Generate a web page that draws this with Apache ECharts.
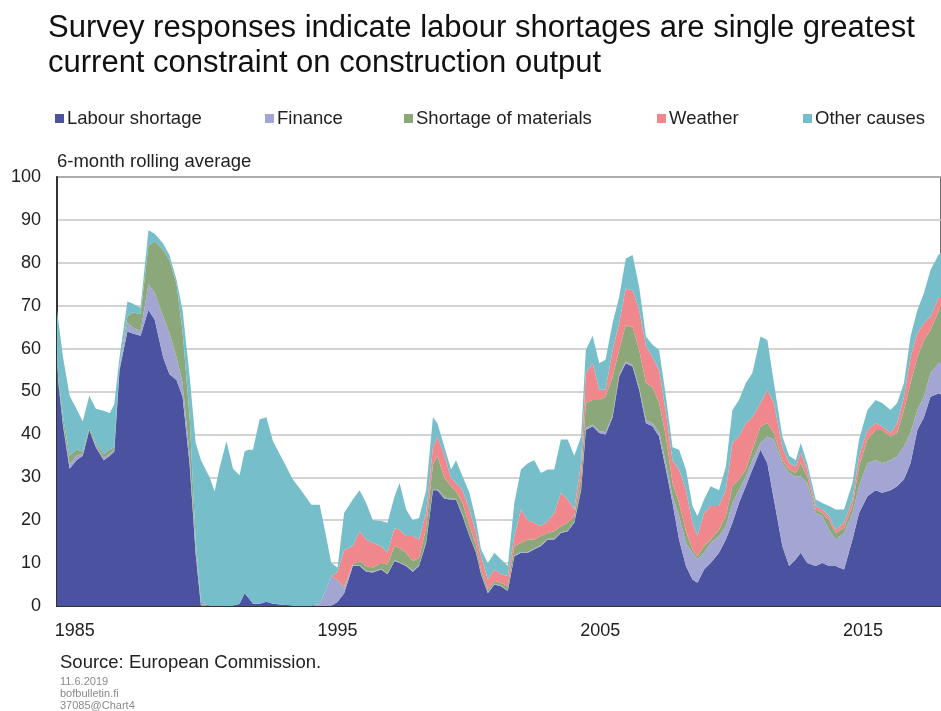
<!DOCTYPE html>
<html>
<head>
<meta charset="utf-8">
<script src="https://cdn.jsdelivr.net/npm/echarts@6/dist/echarts.min.js"></script>
<style>
html,body{margin:0;padding:0;background:#fff;}
#chart{width:941px;height:711px;}
</style>
</head>
<body>
<div id="chart"></div>
<script>
// Time points (fractional years)
const dates = [
  1984.32,1984.55,1984.8,1985.06,1985.3,1985.55,1985.8,1986.1,1986.33,1986.5,
  1986.7,1987.0,1987.2,1987.5,1987.8,1988.04,1988.36,1988.6,1988.87,1989.1,
  1989.37,1989.6,1989.8,1990.13,1990.32,1990.5,1990.77,1991.02,1991.27,1991.46,
  1991.6,1991.78,1992.03,1992.29,1992.54,1992.92,1993.3,1993.68,1994.0,1994.32,1994.57,1994.76,
  1995.0,1995.25,1995.58,1995.84,1996.09,1996.34,1996.66,1996.9,1997.17,1997.36,
  1997.61,1997.86,1998.1,1998.37,1998.63,1998.8,1999.07,1999.32,1999.51,1999.76,
  2000.02,2000.27,2000.46,2000.72,2000.97,2001.22,2001.48,2001.73,2001.98,2002.24,
  2002.49,2002.74,2003.0,2003.25,2003.5,2003.76,2004.01,2004.27,2004.45,2004.71,
  2004.96,2005.2,2005.47,2005.72,2005.97,2006.23,2006.48,2006.74,2006.99,2007.24,
  2007.5,2007.75,2008.0,2008.26,2008.51,2008.7,2008.95,2009.2,2009.52,2009.78,
  2010.03,2010.28,2010.54,2010.79,2011.1,2011.36,2011.61,2011.93,2012.19,2012.44,
  2012.63,2012.88,2013.2,2013.45,2013.71,2013.96,2014.28,2014.6,2014.85,2015.17,
  2015.48,2015.73,2016.05,2016.3,2016.56,2016.81,2017.07,2017.32,2017.57,2017.89,2018.0
];

const labour = [
  55,42,32,34,35,41,37,34,35,36,
  55,64,63.5,63,69,66.7,58,54,52.7,48.8,
  33,12,0,0,0,0,0,0,0.5,3,
  2,0.5,0.5,1,0.5,0.3,0,0,0,0,0,0,
  1,3,9.3,9.3,8,7.8,8.5,7.4,10.5,10,
  9.3,8,9.3,14.7,27,27,25,24.8,24.8,21,
  16.3,12.4,7.4,3,5,4.6,3.5,11.6,12.4,12.4,
  13.2,14,15.5,15.5,17,17.4,19.4,27,41,41.9,
  40.3,40,44,53.5,56.6,55.8,50.4,42.6,41.9,39.5,
  31.8,24,15.5,9.3,6.2,5.4,8.5,10,12.4,15.5,
  19.4,24,27.9,31.8,36.4,33.3,24.8,14,9.3,10.9,
  12.4,10,9.3,10,9.3,9.3,8.5,15.5,21.7,25.6,
  27,26.4,27,27.9,29.5,33.3,41,44,48.8,49.6,49
];

const finance = [
  0,0.5,1,1,0.5,0,0.5,0.5,0.5,0.5,
  0.5,2,1.5,1,6,6.3,9.5,9.6,5.3,3.2,
  2,1,0.5,0,0,0,0,0,0,0,
  0,0,0,0,0,0,0,0,0,0.5,4,7,
  5,1,0.2,0.2,0.2,0.2,0.2,0.2,0.2,0.2,
  0.2,0.2,0.2,0.3,0.3,0.3,0.3,0.2,0.2,0.3,
  0.2,0.2,0.2,0.2,0.2,0.2,0.2,0.2,0.2,0.2,
  0.2,0.2,0.2,0.2,0.2,0.2,0.2,0.5,0.5,0.4,
  0.5,0.5,0.5,0.5,0.4,0.4,0.6,0.7,0.7,1,
  1.5,1.6,5.4,5.4,6.2,5.5,3.9,4.7,3.9,3.1,
  4.6,3,2.3,2.2,1.6,6.2,14,19.3,21.7,19.3,
  17.8,18.7,12.4,11,8.5,6.2,8.5,6.2,6.2,7.7,
  7,6.9,7,7,7.7,7,4.7,4.8,5.5,7,8
];

const materials = [
  0.5,1.5,2,1.5,0.5,0.5,0.5,1,1,0.5,
  0.5,1.5,3.5,4,9,12,15.5,17,17,12,
  9,2,0.5,0,0,0,0,0,0,0,
  0,0,0,0,0,0,0,0,0,0,0,0,
  0,0.5,0.2,1,1.1,1,1.3,2.1,3.3,3.3,
  2.9,2.3,1.7,3.2,5.7,7.7,4.5,3,1.7,2.7,
  2.1,1.7,0.9,0.7,0.6,0.6,0.9,2.2,2.1,2.9,
  2.1,2.1,1.3,1.7,1.4,1.8,1.4,2.5,5.8,5.7,
  7.2,8.3,9,5.7,8.5,8.8,8.7,8.7,8.4,6.8,
  6.2,3.1,3.1,2.7,0.8,0.7,1.6,0.8,1.5,2.4,
  4,2.5,1.6,2.4,3.9,3.1,1.5,0.7,0.8,0.8,
  3.1,1.5,0.8,0.7,2.2,1.5,1.2,1.6,4.6,5.5,
  7,7.7,5.5,5.4,8.5,11.7,12.3,13.2,10,12.4,13.5
];

const weather = [
  0,0,0,0,0,0,0,0,0,0,
  0,0,0,0,0,0,0,0,0,0,
  0,0,0,0,0,0,0,0,0,0,
  0,0,0,0,0,0,0,0,0,0,0,0,
  2,8.5,4.3,6.9,6.2,5.7,4,2.7,4.2,4.3,
  3.9,5.8,4.3,3.5,4,4.5,5.2,1.8,2,3,
  3.9,2.7,3.1,2.3,2.7,2,2.4,2.3,7.8,4.5,
  3.9,2.3,2.8,4.3,7.8,5.4,1.5,3.3,7,8.6,
  2.4,1.6,6.2,6.3,8.5,8.6,9.3,8.5,7,7.7,
  5.5,5.3,7.8,9.6,6.2,4.7,7.7,7.8,5.5,6,
  10,10,10.8,7.6,5.4,7.8,7,3,1.5,1.5,
  2.4,1.6,0.8,0.8,1,0.8,1.2,1.5,2.5,2.2,
  1.6,0.9,0.8,2.3,3.1,6,5.6,3.9,3.1,3,1.5
];

const other = [
  13.5,14,14,9.5,7,7.5,8,10,8.5,10,
  2,3.5,2,1.5,3.6,1.8,1.5,1.2,1,5,
  9.5,23,33,30,26.7,32,38.4,32,30,33,
  34.4,35.9,43,43,37.9,33.7,29.5,26.4,23.6,23.1,12,3,
  1,8.7,10.8,9.6,8.5,5.3,5.8,7,7.4,10.9,
  6.2,3.7,5,5.3,7,3.1,2,2,5.3,3.2,
  3.9,3,1.6,3.8,3.9,3.5,2.3,7.7,9.3,13.3,
  14.6,12.4,12,10.1,12.4,14,12.5,6.2,5.4,6.4,
  6.2,7,6.3,6,7,8.2,5.4,2.3,2.9,4.7,
  3.8,3,4.6,4.8,3.9,4.7,3.1,4.6,3.7,5.5,
  7.7,8.5,9.4,10.3,15.5,11.6,4.7,2.5,1.7,1.5,
  2.3,1.5,1.5,1.5,2.3,4.7,3.1,3.9,3.8,4.7,
  5.4,5.4,5.4,4.7,3.2,4.8,5.4,7,10.9,10,10.5
];

const seriesNames = ['Labour shortage','Finance','Shortage of materials','Weather','Other causes'];
const seriesValues = [labour, finance, materials, weather, other];
const seriesColors = ['#4b53a0','#a3a5d3','#8ca77a','#f0878c','#76bec9'];
const legendLeft = [55, 265, 404, 657, 803];
const xTickLabels = [1985, 1995, 2005, 2015];
const yTicks = {min: 0, max: 100, interval: 10};

const FONT = 'Liberation Sans, Arial, sans-serif';
const chart = echarts.init(document.getElementById('chart'), null, {renderer: 'canvas'});

// value first, date second: the stacked dimension is the value (y)
const series = seriesNames.map((name, k) => ({
  name: name,
  type: 'line',
  stack: 'total',
  symbol: 'none',
  smooth: false,
  encode: {x: 1, y: 0},
  lineStyle: {width: 0},
  areaStyle: {color: seriesColors[k], opacity: 1},
  itemStyle: {color: seriesColors[k]},
  emphasis: {disabled: true},
  data: dates.map((d, i) => [seriesValues[k][i], d])
}));

const legends = seriesNames.map((name, k) => ({
  data: [name],
  left: legendLeft[k], top: 109,
  padding: 0,
  icon: 'rect', itemWidth: 9, itemHeight: 9, itemGap: 0,
  textStyle: {fontFamily: FONT, fontSize: 18.5, color: '#222', padding: [0,0,0,-2]},
  selectedMode: false
}));

chart.setOption({
  animation: false,
  backgroundColor: '#ffffff',
  grid: {left: 57, right: -3, top: 177, bottom: 105, show: true, borderColor: '#3a3a3a', borderWidth: 1.5, backgroundColor: 'transparent'},
  legend: legends,
  xAxis: {
    type: 'value',
    min: 1984.32, max: 2017.97,
    axisLine: {show: true, lineStyle: {color: '#333', width: 2}},
    axisTick: {show: false},
    splitLine: {show: false},
    axisLabel: {
      customValues: xTickLabels,
      fontFamily: FONT, fontSize: 18, color: '#222', margin: 16,
      formatter: v => String(Math.round(v))
    }
  },
  yAxis: {
    type: 'value',
    min: yTicks.min, max: yTicks.max, interval: yTicks.interval,
    axisLine: {show: true, lineStyle: {color: '#333', width: 2}},
    axisTick: {show: false},
    splitLine: {show: true, lineStyle: {color: '#c4c4c4', width: 1.5}},
    axisLabel: {fontFamily: FONT, fontSize: 18, color: '#222', margin: 16}
  },
  graphic: [
    {type: 'text', left: 48, top: 11, style: {text: 'Survey responses indicate labour shortages are single greatest\ncurrent constraint on construction output', fontFamily: FONT, fontSize: 31, lineHeight: 35, fill: '#111'}},
    {type: 'text', left: 57, top: 152, style: {text: '6-month rolling average', fontFamily: FONT, fontSize: 18.5, fill: '#222'}},
    {type: 'text', left: 60, top: 653, style: {text: 'Source: European Commission.', fontFamily: FONT, fontSize: 18.5, fill: '#222'}},
    {type: 'text', left: 60, top: 676, style: {text: '11.6.2019\nbofbulletin.fi\n37085@Chart4', fontFamily: FONT, fontSize: 11, lineHeight: 12, fill: '#8a8a8a'}}
  ],
  series: series
});
</script>
</body>
</html>
